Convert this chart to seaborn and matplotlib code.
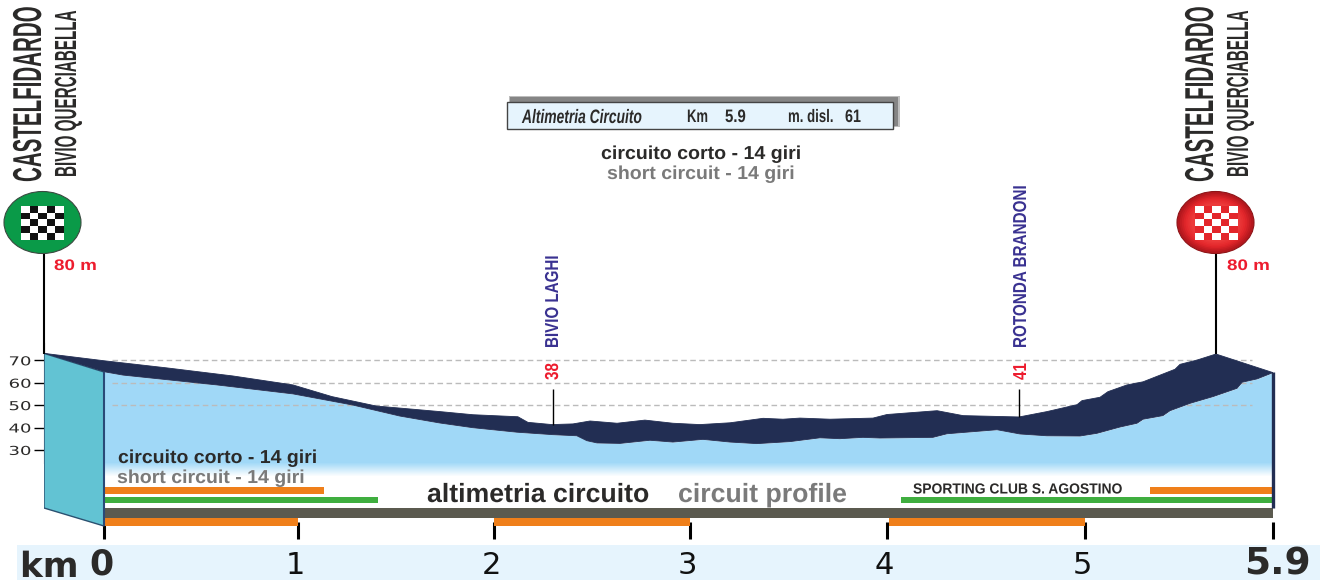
import numpy as np
import matplotlib
matplotlib.use("Agg")
import matplotlib.pyplot as plt
import seaborn as sns
from matplotlib.colors import LinearSegmentedColormap, ListedColormap, to_rgb
from matplotlib.patches import Ellipse, Polygon, Rectangle
from matplotlib.patheffects import AbstractPathEffect
from matplotlib.transforms import Affine2D, ScaledTranslation

# road profile, upper edge of the dark band
top_km = [-0.309, 0.0, 0.325, 0.665, 0.974, 1.173, 1.398, 1.724, 1.893, 2.122, 2.173, 2.296, 2.403,
          2.49, 2.628, 2.77, 2.913, 3.05, 3.203, 3.371, 3.472, 3.558, 3.711, 3.929, 4.0, 4.253,
          4.384, 4.667, 4.808, 4.96, 4.985, 5.072, 5.11, 5.201, 5.278, 5.431, 5.455, 5.536, 5.627, 5.9]
top_alt = [73.1, 69.8, 66.6, 63.0, 59.0, 53.8, 49.6, 47.1, 45.7, 44.8, 42.3, 41.3, 41.6,
           42.9, 41.9, 43.3, 41.9, 41.3, 42.1, 44.1, 43.7, 44.2, 43.7, 44.2, 45.8, 47.5,
           45.3, 44.7, 47.1, 50.2, 52.0, 53.5, 56.0, 59.0, 60.4, 66.0, 68.2, 70.1, 72.8, 64.5]

# road profile, lower edge of the dark band
front_km = [0.0, 0.098, 0.582, 0.974, 1.281, 1.52, 1.724, 1.893, 2.117, 2.301, 2.423, 2.474, 2.526,
            2.643, 2.796, 2.913, 3.066, 3.203, 3.34, 3.508, 3.66, 3.761, 3.878, 3.964, 4.232, 4.303,
            4.556, 4.672, 4.808, 4.975, 5.057, 5.167, 5.249, 5.278, 5.373, 5.407, 5.503, 5.613,
            5.728, 5.752, 5.824, 5.9]
front_alt = [64.9, 63.4, 59.0, 55.0, 50.0, 45.1, 42.0, 39.9, 37.9, 36.8, 36.3, 34.1, 33.1,
             32.9, 34.3, 33.5, 34.7, 33.5, 32.8, 33.7, 35.4, 35.0, 35.6, 35.3, 35.6, 37.2,
             39.0, 37.1, 36.3, 36.2, 37.4, 40.2, 41.9, 43.7, 45.3, 47.5, 50.8, 53.8,
             57.5, 60.2, 61.7, 64.5]

alt_ticks = [70, 60, 50, 40, 30]
grid_levels = [70, 60, 50]
km_ticks = [0, 1, 2, 3, 4, 5, 5.9]
km_labels = ["0", "1", "2", "3", "4", "5", "5.9"]

orange_low = [(0, 1), (2, 1), (4.01, 0.99)]
orange_high = [(0, 1.133), (5.31, 0.59)]
green_high = [(0, 1.408), (4.07, 1.83)]

waypoints = [("BIVIO LAGHI", "38", 2.3, 41.3), ("ROTONDA BRANDONI", "41", 4.667, 44.7)]

NAVY = "#222E53"
SKY = "#A0D8F7"
PALE = "#E6F4FD"
ORANGE = "#EF7F1A"
GREEN = "#3FAE3F"
GREY_ROAD = "#5B5A4F"
INK = "#2B2A29"
GREY_TEXT = "#7A7A7A"
RED = "#ED1C2E"
INDIGO = "#3A3291"

W, H = 1333, 584
LEFT, RIGHT, TOP, BOTTOM = 44, 1273, 340, 539

# the km ruler in the picture is not quite even
km_anchor = [-0.309, 0, 1, 2, 3, 4, 5, 5.9]
px_anchor = [44, 104, 298, 494, 690, 887, 1085, 1273]


def km_to_px(x):
    return np.interp(x, km_anchor, px_anchor)


def px_to_km(p):
    return np.interp(p, px_anchor, km_anchor)


def alt_at(py):
    return 70 - (py - 360.3) / 2.24


# squeezes or stretches a text around its baseline start
class Stretch(AbstractPathEffect):
    def __init__(self, sx=1.0, sy=1.0):
        super().__init__()
        self.sx, self.sy = sx, sy

    def draw_path(self, renderer, gc, tpath, affine, rgbFace=None):
        renderer.draw_path(gc, tpath, Affine2D().scale(self.sx, self.sy) + affine, rgbFace)


sns.set_theme(style="white")
plt.rcParams["font.family"] = ["Liberation Sans", "DejaVu Sans"]

fig = plt.figure(figsize=(W / 100, H / 100), dpi=100)
fig.add_artist(Rectangle((17 / W, 1 - 580 / H), 1303 / W, 35 / H, transform=fig.transFigure,
                         color=PALE, lw=0, zorder=-1))

ax = fig.add_axes([LEFT / W, 1 - BOTTOM / H, (RIGHT - LEFT) / W, (BOTTOM - TOP) / H])
ax.patch.set_alpha(0)
ax.set_xscale("function", functions=(km_to_px, px_to_km))
ax.set_xlim(km_anchor[0], km_anchor[-1])
ax.set_ylim(alt_at(BOTTOM), alt_at(TOP))

# side wall of the 3d block
wall = Polygon([(-0.309, 73.1), (0, alt_at(372)), (0, alt_at(526)), (-0.309, alt_at(508))],
               facecolor="#62C3D3", edgecolor="#2A5070", lw=1, zorder=2)
ax.add_patch(wall)

# light blue body, fading to white near the bottom
ax.fill_between(front_km, front_alt, alt_at(462), color=SKY, lw=0, zorder=1)
fade_edges = alt_at(np.arange(462, 478))
fade = np.linspace(0, 1, len(fade_edges) - 1)[:, None]
ax.pcolormesh([0, 5.9], fade_edges, fade, cmap=LinearSegmentedColormap.from_list("fade", [SKY, "white"]),
              zorder=1, rasterized=True)

ax.hlines(grid_levels, 0.04, 5.8, colors="#BBBBBB", linestyles=(0, (4, 2.5)), lw=1, zorder=1.5)

ax.fill(np.r_[top_km, front_km[::-1]], np.r_[top_alt, front_alt[::-1]], color=NAVY, lw=0, zorder=3)
sns.lineplot(x=top_km, y=top_alt, ax=ax, sort=False, estimator=None, color=NAVY, lw=0.6, zorder=3)
sns.lineplot(x=front_km, y=front_alt, ax=ax, sort=False, estimator=None, color=NAVY, lw=0.6, zorder=3)


# strips under the profile
def strips(spans, y0, y1, color, z=4):
    ax.broken_barh(spans, (alt_at(y1), alt_at(y0) - alt_at(y1)), facecolors=color, lw=0, zorder=z)


strips(orange_high, 487, 494, ORANGE)
strips(green_high, 497, 503, GREEN)
strips([(0, 5.9)], 508, 518, GREY_ROAD)
strips(orange_low, 518, 526, ORANGE)

ax.vlines(0, alt_at(526), alt_at(372), colors="#2A4A78", lw=1.5, zorder=5)
ax.vlines(5.9, alt_at(508), alt_at(372), colors=NAVY, lw=2.4, zorder=5, clip_on=False)

# waypoint stems
for _, _, wk, wa in waypoints:
    ax.vlines(wk, wa, alt_at(389), colors="black", lw=1, zorder=5)

# axes
for name in ["top", "right", "bottom"]:
    ax.spines[name].set_visible(False)
ax.spines["left"].set_bounds(alt_at(463), alt_at(343))
ax.spines["left"].set_color("#555555")
ax.spines["left"].set_linewidth(0.8)
ax.spines["left"].set_zorder(1)

ax.set_yticks(alt_ticks)
ax.set_yticklabels([str(a) for a in alt_ticks], fontsize=13, family="DejaVu Sans", color=INK)
ax.tick_params(axis="y", left=True, length=7.2, width=1, color="black", pad=2)
lift = ScaledTranslation(0, 2 / 100, fig.dpi_scale_trans)
for lab in ax.get_yticklabels():
    lab.set_path_effects([Stretch(1.0, 0.68)])
    lab.set_transform(lab.get_transform() + lift)

ax.set_xticks(km_ticks)
ax.set_xticklabels(km_labels, family="DejaVu Sans", color="#111111", fontsize=22)
ax.minorticks_off()
ax.tick_params(axis="x", bottom=True, direction="in", length=12.5, width=2.2, color="black", pad=25.5)
for lab, val in zip(ax.get_xticklabels(), km_labels):
    dx = {"0": -3, "5.9": 4}.get(val, -3)
    lab.set_verticalalignment("baseline")
    lab.set_transform(lab.get_transform() + ScaledTranslation(dx / 100, 0, fig.dpi_scale_trans))
    if val == "0":
        lab.set_fontsize(25)
        lab.set_fontweight("bold")
        lab.set_color(INK)
    if val == "5.9":
        lab.set_fontsize(27)
        lab.set_fontweight("bold")
        lab.set_color(INK)

# pixel overlay for the labels and the medals
over = fig.add_axes([0, 0, 1, 1], zorder=5)
over.patch.set_alpha(0)
over.set_xlim(0, W)
over.set_ylim(H, 0)
over.axis("off")
rend = fig.canvas.get_renderer()


# text from its baseline start, sized to a length, heights forced to cap pixels
def fit_text(x, y, s, length, cap, color=INK, weight="bold", rotation=0, **kw):
    t = over.text(x, y, s, fontsize=10, color=color, fontweight=weight, rotation=rotation,
                  rotation_mode="anchor", ha="left", va="baseline", zorder=6, **kw)
    box = t.get_window_extent(rend)
    size = 10 * length / (box.height if rotation else box.width)
    t.set_fontsize(size)
    t.set_path_effects([Stretch(1.0, cap / (size * 100 / 72 * 0.72))])
    return t


# finish medals
checker = np.indices((5, 5)).sum(axis=0) % 2
medals = [(42.5, 21, "#3A4A40", ["#0A9A48", "#0A9A48", "#0A9A48"], "#111111"),
          (1215.5, 1195, "#8E1418", ["#B5181E", "#E3262B", "#EC3A3A"], "#E3262B")]
for cx, sq_x, edge, shades, sq_col in medals:
    ramp = np.linspace(0, 1, 8)
    for f in ramp:
        k = f * (len(shades) - 1)
        i = min(int(k), len(shades) - 2)
        c0, c1 = np.array(to_rgb(shades[i])), np.array(to_rgb(shades[i + 1]))
        col = c0 + (c1 - c0) * (k - i)
        if f == 0:
            over.add_patch(Ellipse((cx, 222.5), 77, 62, facecolor=col, edgecolor=edge, lw=0.8, zorder=2))
        else:
            over.add_patch(Ellipse((cx, 222.5), 75 * (1 - f * 0.35), 60 * (1 - f * 0.35), facecolor=col, lw=0, zorder=2))
    over.pcolormesh(sq_x + np.arange(6) * 8.6, 206 + np.arange(6) * 6.7, checker,
                    cmap=ListedColormap(["white", sq_col]), zorder=3, rasterized=True)
    over.vlines(cx + (1.5 if cx < 100 else 0.5), 253, 354, colors="black", lw=1.5, zorder=1)

for base0, base1, x2 in [(41, 76, 54), (1213, 1248, 1227)]:
    fit_text(base0, 182, "CASTELFIDARDO", 175, 29, rotation=90)
    fit_text(base1, 177, "BIVIO QUERCIABELLA", 166, 22, rotation=90)
    fit_text(x2, 270, "80 m", 43, 11, color=RED)

# summary box
over.add_patch(Rectangle((509, 95.5), 391, 31.5, facecolor="#BDBDBD", lw=0, zorder=1))
over.add_patch(Rectangle((510, 96.5), 388, 29, facecolor="#858585", lw=0, zorder=1))
over.add_patch(Rectangle((507, 102), 386, 27, facecolor=PALE, edgecolor="#444444", lw=1, zorder=2))
fit_text(522, 123, "Altimetria Circuito", 120, 14, style="italic")
fit_text(687, 122, "Km", 21, 13)
fit_text(725, 122, "5.9", 21, 13)
fit_text(788, 122, "m. disl.", 46, 13)
fit_text(845, 122, "61", 16, 13)

fit_text(601, 159, "circuito corto - 14 giri", 200, 13.5)
fit_text(607, 179, "short circuit - 14 giri", 188, 13.5, color=GREY_TEXT)

for name, alt, _, _ in waypoints:
    base = 558 if name.startswith("BIVIO") else 1026
    fit_text(base, 348, name, 92 if name.startswith("BIVIO") else 162, 13.5, color=INDIGO, rotation=90)
    fit_text(base, 380, alt, 17, 13.5, color=RED, rotation=90)

fit_text(118, 463, "circuito corto - 14 giri", 199, 13.5)
fit_text(117, 483, "short circuit - 14 giri", 188, 13.5, color=GREY_TEXT)
fit_text(427, 502, "altimetria circuito", 222, 19)
fit_text(678, 502, "circuit profile", 169, 19, color=GREY_TEXT)
fit_text(913, 493.5, "SPORTING CLUB S. AGOSTINO", 209, 10.5)
fit_text(20, 577, "km", 58, 25, family="DejaVu Sans")

fig.savefig("out.png", dpi=100)
